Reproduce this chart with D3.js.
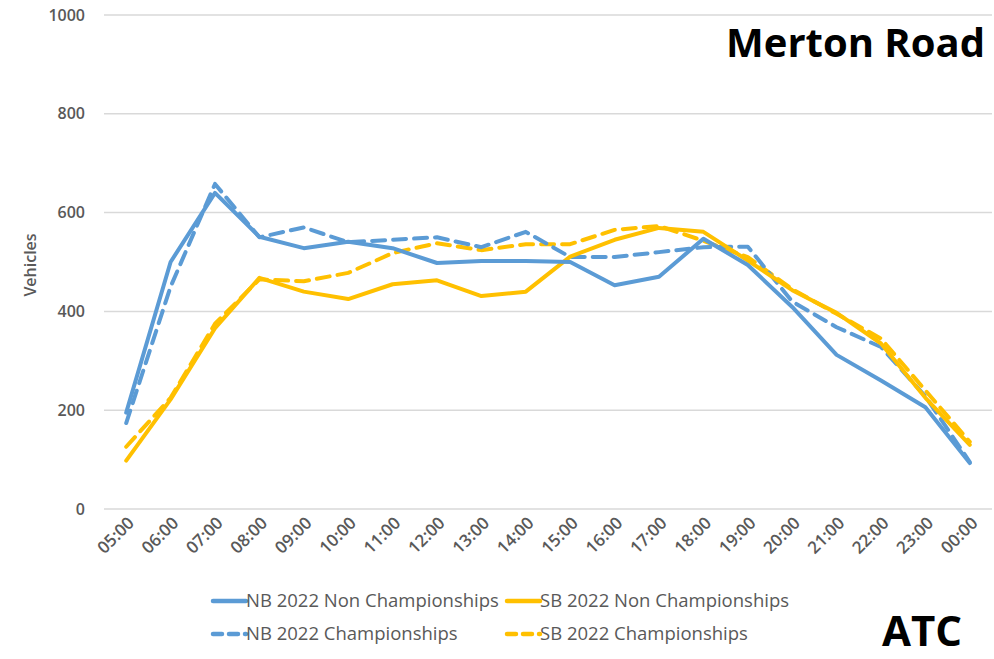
<!DOCTYPE html>
<html>
<head>
<meta charset="utf-8">
<script src="https://cdn.jsdelivr.net/npm/d3@7"></script>
<style>
  body { margin: 0; background: #fff; }
  text { font-family: "Open Sans", "Noto Sans", sans-serif; }
</style>
</head>
<body>
<svg id="chart" width="994" height="659"></svg>
<script>
// hourly counts
var hours = ["05:00","06:00","07:00","08:00","09:00","10:00","11:00","12:00","13:00","14:00",
             "15:00","16:00","17:00","18:00","19:00","20:00","21:00","22:00","23:00","00:00"];
var nbNon   = [195, 500, 640, 551, 528, 541, 528, 498, 502, 502, 500, 453, 470, 547, 494, 409, 312, 260, 206, 93];
var nbChamp = [174, 450, 658, 550, 570, 540, 545, 550, 530, 561, 510, 510, 520, 530, 531, 420, 368, 328, 228, 95];
var sbNon   = [98, 222, 366, 468, 440, 425, 455, 463, 431, 440, 511, 545, 569, 561, 503, 443, 397, 335, 225, 130];
var sbChamp = [126, 225, 375, 465, 461, 478, 518, 538, 524, 536, 536, 565, 573, 543, 510, 445, 395, 345, 240, 136];
var yTicks  = [0, 200, 400, 600, 800, 1000];

var series = [
  {name: "NB 2022 Non Championships", values: nbNon,   color: "#5b9bd5", dash: null},
  {name: "SB 2022 Non Championships", values: sbNon,   color: "#ffc000", dash: null},
  {name: "NB 2022 Championships",     values: nbChamp, color: "#5b9bd5", dash: "13,8"},
  {name: "SB 2022 Championships",     values: sbChamp, color: "#ffc000", dash: "13,8"}
];

var svg = d3.select("#chart");

var x = d3.scaleBand().domain(hours).range([104, 992]);
var y = d3.scaleLinear().domain([0, 1000]).range([509, 15]);

// gridlines
svg.append("g").selectAll("line")
  .data(yTicks).enter().append("line")
  .attr("x1", 104).attr("x2", 992)
  .attr("y1", function(d) { return y(d); })
  .attr("y2", function(d) { return y(d); })
  .style("stroke", "#d9d9d9")
  .style("stroke-width", 1.5);

// y axis labels
var yAxis = svg.append("g")
  .attr("transform", "translate(85,0)")
  .call(d3.axisLeft(y).tickValues(yTicks).tickFormat(d3.format("d")).tickSize(0).tickPadding(0));
yAxis.select(".domain").remove();
yAxis.selectAll("text")
  .style("font-size", "16px")
  .style("font-weight", "600")
  .style("fill", "#595959");

svg.append("text")
  .attr("transform", "translate(36,265) rotate(-90)")
  .attr("text-anchor", "middle")
  .style("font-size", "16px")
  .style("font-weight", "600")
  .style("fill", "#595959")
  .text("Vehicles");

// x axis labels
var xAxis = svg.append("g")
  .attr("transform", "translate(0,515)")
  .call(d3.axisBottom(x).tickSize(0).tickPadding(0));
xAxis.select(".domain").remove();
xAxis.selectAll("text")
  .attr("text-anchor", "end")
  .attr("dy", "0")
  .attr("transform", "translate(9,9) rotate(-45)")
  .style("font-size", "17px")
  .style("font-weight", "600")
  .style("fill", "#595959");

// lines
var line = d3.line()
  .x(function(d, i) { return x(hours[i]) + x.bandwidth() / 2; })
  .y(function(d) { return y(d); });

var drawOrder = [series[3], series[2], series[1], series[0]];
svg.append("g").selectAll("path")
  .data(drawOrder).enter().append("path")
  .attr("d", function(s) { return line(s.values); })
  .style("fill", "none")
  .style("stroke", function(s) { return s.color; })
  .style("stroke-width", 4)
  .style("stroke-linejoin", "round")
  .style("stroke-linecap", "round")
  .style("stroke-dasharray", function(s) { return s.dash; });

// legend
var legendPos = [[213, 601], [507, 601], [213, 634], [507, 634]];
var legend = svg.append("g").selectAll("g")
  .data(series).enter().append("g")
  .attr("transform", function(s, i) { return "translate(" + legendPos[i][0] + "," + legendPos[i][1] + ")"; });
legend.append("line")
  .attr("x1", 0).attr("x2", 33)
  .style("stroke", function(s) { return s.color; })
  .style("stroke-width", 4.5)
  .style("stroke-linecap", "round")
  .style("stroke-dasharray", function(s) { return s.dash ? "9,7" : null; });
legend.append("text")
  .attr("x", 33).attr("dy", "0.35em")
  .style("font-size", "18.5px")
  .style("fill", "#595959")
  .text(function(s) { return s.name; });

// titles
svg.append("text")
  .attr("x", 985).attr("y", 57)
  .attr("text-anchor", "end")
  .style("font-size", "40px")
  .style("font-weight", "bold")
  .style("fill", "#000")
  .text("Merton Road");

svg.append("text")
  .attr("x", 962).attr("y", 646)
  .attr("text-anchor", "end")
  .style("font-size", "42px")
  .style("font-weight", "bold")
  .style("fill", "#000")
  .text("ATC");
</script>
</body>
</html>
